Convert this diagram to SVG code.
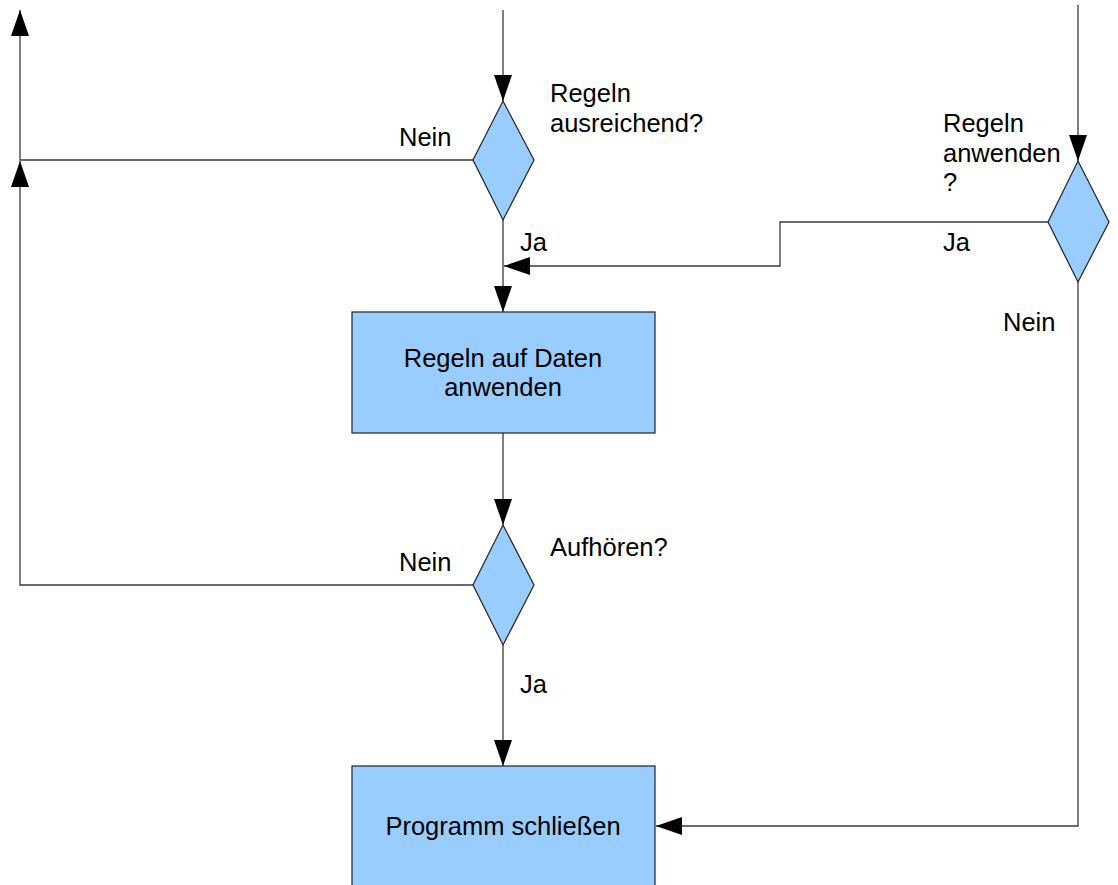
<svg xmlns="http://www.w3.org/2000/svg" width="1118" height="885" viewBox="0 0 1118 885">
<defs>
<marker id="ah" markerUnits="userSpaceOnUse" markerWidth="26" markerHeight="18" viewBox="0 0 26 18" refX="26" refY="9" orient="auto">
<path d="M0,0 L26,9 L0,18 Z" fill="#000"/>
</marker>
</defs>
<style>
.ln{fill:none;stroke:#3a3a3a;stroke-width:1.3}
.shape{fill:#99ccff;stroke:#222;stroke-width:1.2}
text{font-family:"Liberation Sans",Arial,sans-serif;font-size:25.5px;fill:#000}
.c{text-anchor:middle}
</style>
<rect width="1118" height="885" fill="#fff"/>
<g id="connectors">
<path class="ln" d="M503,10 L503,101" marker-end="url(#ah)"/>
<path class="ln" d="M473,160 L20,160 L20,10" marker-end="url(#ah)"/>
<path class="ln" d="M473,585 L20,585 L20,161" marker-end="url(#ah)"/>
<path class="ln" d="M503,220 L503,312" marker-end="url(#ah)"/>
<path class="ln" d="M1048,222 L780,222 L780,266 L504,266" marker-end="url(#ah)"/>
<path class="ln" d="M1078,5 L1078,161" marker-end="url(#ah)"/>
<path class="ln" d="M1078,282 L1078,826 L656,826" marker-end="url(#ah)"/>
<path class="ln" d="M503,433 L503,525" marker-end="url(#ah)"/>
<path class="ln" d="M503,645 L503,766" marker-end="url(#ah)"/>
</g>
<g id="d1">
<polygon class="shape" points="503,101 534,160 503,220 473,160"/>
<text x="550" y="102">Regeln</text>
<text x="550" y="132">ausreichend?</text>
</g>
<g id="d2">
<polygon class="shape" points="1078,161 1109,222 1078,282 1048,222"/>
<text x="943" y="132">Regeln</text>
<text x="943" y="162">anwenden</text>
<text x="943" y="191">?</text>
</g>
<g id="b1">
<rect class="shape" x="352" y="312" width="303" height="121"/>
<text class="c" x="503" y="367">Regeln auf Daten</text>
<text class="c" x="503" y="396">anwenden</text>
</g>
<g id="d3">
<polygon class="shape" points="503,525 534,585 503,645 473,585"/>
<text x="550" y="556">Aufhören?</text>
</g>
<g id="b2">
<rect class="shape" x="352" y="766" width="303" height="125"/>
<text class="c" x="503" y="835">Programm schließen</text>
</g>
<g id="labels">
<text x="399" y="146">Nein</text>
<text x="520" y="251">Ja</text>
<text x="943" y="251">Ja</text>
<text x="1003" y="331">Nein</text>
<text x="399" y="571">Nein</text>
<text x="520" y="693">Ja</text>
</g>
</svg>
